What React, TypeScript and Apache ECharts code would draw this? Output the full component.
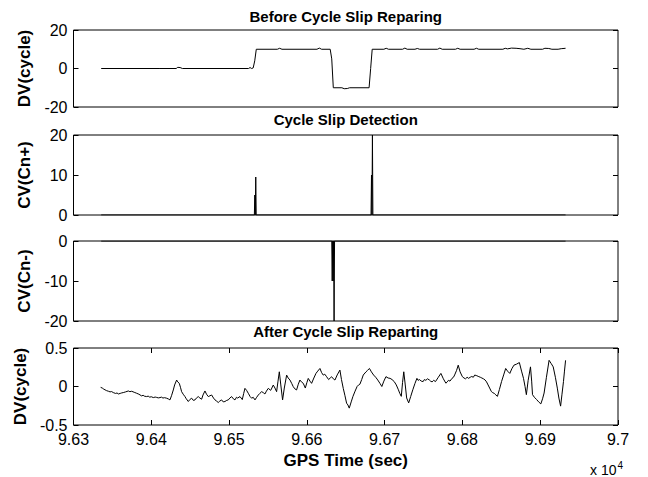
import React, { useEffect, useRef } from "react";
import * as echarts from "echarts";

// GPS time in seconds, values in cycles
const xTicks = { min: 96300, max: 97000, interval: 100 };

const panelTitles = ["Before Cycle Slip Reparing", "Cycle Slip Detection", "", "After Cycle Slip Reparting"];
const yNames = ["DV(cycle)", "CV(Cn+)", "CV(Cn-)", "DV(cycle)"];
const yRanges: [number, number, number][] = [
  [-20, 20, 20],
  [0, 20, 10],
  [-20, 0, 10],
  [-0.5, 0.5, 0.5],
];

const beforeData: [number, number][] = [
  [96335.6, 0], [96410, 0], [96432, 0], [96434, 0.6], [96437, 0.5], [96440, 0],
  [96525, 0], [96527, 0.5], [96529, 0], [96531, 0.3], [96533, 4], [96535, 10],
  [96562, 10], [96565, 10.5], [96568, 10], [96613, 10], [96616, 10.6], [96619, 10],
  [96630, 10], [96632, 5], [96634, -10], [96645, -10], [96648, -10.5], [96652, -10.4],
  [96655, -10], [96680, -10], [96682, 0], [96684, 10], [96699, 10], [96702, 10.5],
  [96705, 10], [96723, 10], [96726, 10.6], [96729, 10], [96739, 10], [96742, 10.4],
  [96745, 10], [96768, 10], [96771, 10.6], [96774, 10], [96791, 10], [96794, 10.5],
  [96797, 10], [96815, 10], [96818, 10.5], [96821, 10], [96852, 10], [96855, 10.5],
  [96858, 10.2], [96863, 10.6], [96869, 10.5], [96874, 10.3], [96879, 10], [96884, 10.5],
  [96888, 10], [96903, 10], [96906, 10.5], [96911, 10.4], [96915, 10], [96923, 10],
  [96927, 10.3], [96932.6, 10.5],
];

const cnPlusData: [number, number][] = [
  [96335.6, 0], [96532.5, 0], [96533.1, 5], [96533.7, 0], [96534.3, 9.5], [96534.9, 0],
  [96682.5, 0], [96683.1, 10], [96683.7, 0], [96684.3, 20], [96684.9, 0], [96932.6, 0],
];

const cnMinusData: [number, number][] = [
  [96335.6, 0], [96632, 0], [96632.6, -10], [96633.2, 0], [96633.8, -10], [96634.4, 0],
  [96635, -20], [96635.6, 0], [96932.6, 0],
];

const afterData: [number, number][] = [
  [96334.9, -0.011], [96337, -0.02], [96339, -0.035], [96342.6, -0.054], [96345, -0.062],
  [96347, -0.07], [96349, -0.066], [96351.2, -0.079], [96354, -0.09], [96356, -0.084],
  [96357.6, -0.097], [96360, -0.09], [96362, -0.083], [96364.0, -0.079], [96367, -0.07],
  [96370.5, -0.058], [96372.5, -0.067], [96374.8, -0.062], [96378, -0.075], [96381.2, -0.088],
  [96384, -0.1], [96387.6, -0.122], [96389.5, -0.114], [96391, -0.125], [96394.0, -0.131],
  [96396, -0.125], [96398, -0.138], [96400, -0.133], [96402.6, -0.144], [96405, -0.137],
  [96407, -0.142], [96409, -0.148], [96411.2, -0.144], [96413, -0.138], [96415, -0.15],
  [96417, -0.145], [96419.7, -0.152], [96422, -0.162], [96424.0, -0.174], [96426, -0.12],
  [96428.3, -0.045], [96430, 0.02], [96432.6, 0.084], [96434, 0.06], [96436.0, 0.041],
  [96437.5, -0.01], [96439.0, -0.067], [96441, -0.1], [96443.3, -0.131], [96445, -0.16],
  [96447.6, -0.195], [96449.5, -0.17], [96451.9, -0.152], [96454, -0.18], [96456.2, -0.174],
  [96458, -0.15], [96460.4, -0.131], [96462.5, -0.15], [96464.7, -0.165], [96466.5, -0.11],
  [96469.0, -0.058], [96471, -0.1], [96473.3, -0.131], [96475.5, -0.12], [96477.6, -0.11],
  [96480, -0.15], [96481.9, -0.174], [96484, -0.19], [96486.1, -0.208], [96488, -0.19],
  [96490.4, -0.174], [96492.5, -0.2], [96494.7, -0.195], [96497, -0.18], [96499.0, -0.174],
  [96501, -0.15], [96503.3, -0.131], [96505.5, -0.16], [96507.6, -0.174], [96509.5, -0.14],
  [96511, -0.15], [96514.0, -0.131], [96515.5, -0.15], [96517, -0.17], [96518.8, -0.09],
  [96520.4, -0.024], [96522.5, -0.05], [96524.7, -0.088], [96527, -0.13], [96529.0, -0.152],
  [96531, -0.14], [96533.3, -0.174], [96535.5, -0.14], [96537.6, -0.11], [96539.5, -0.09],
  [96541.9, -0.067], [96544, -0.08], [96546.1, -0.097], [96548, -0.06], [96550.4, -0.024],
  [96553.5, -0.05], [96555, -0.02], [96556.8, 0.019], [96559, -0.02], [96561.1, -0.067],
  [96562.8, 0.06], [96564.6, 0.191], [96566.5, 0.02], [96568.8, -0.174], [96571, -0.02],
  [96574.0, 0.148], [96576, 0.11], [96578.3, 0.084], [96580.5, 0.04], [96582.5, -0.002],
  [96584.5, -0.03], [96586.8, -0.045], [96589, 0.03], [96591.1, 0.084], [96593, 0.06],
  [96595.4, 0.041], [96598, -0.02], [96600, 0.05], [96601.8, 0.105], [96604, 0.07],
  [96606.1, 0.041], [96609, 0.11], [96611.7, 0.17], [96614, 0.2], [96616.8, 0.234],
  [96619, 0.18], [96621.1, 0.148], [96623, 0.16], [96625.4, 0.127], [96628, 0.09],
  [96630, 0.11], [96631.8, 0.127], [96634, 0.1], [96636.1, 0.084], [96639, 0.15],
  [96642.5, 0.213], [96644.5, 0.09], [96646.8, -0.024], [96649, -0.12], [96651.1, -0.217],
  [96652.8, -0.24], [96654.5, -0.281], [96657, -0.2], [96659.3, -0.128], [96662, -0.06],
  [96664.6, 0.0], [96666.5, 0.02], [96668.2, 0.03], [96670.5, 0.09], [96672.5, 0.149],
  [96676, 0.19], [96678, 0.21], [96680.5, 0.234], [96683, 0.19], [96685.8, 0.149],
  [96688.5, 0.12], [96691.1, 0.085], [96694, 0.04], [96696.4, 0.0], [96699, 0.07],
  [96701.7, 0.128], [96704.5, 0.11], [96707.0, 0.106], [96709.5, 0.09], [96712.3, 0.064],
  [96715, 0.02], [96717.7, -0.043], [96719.5, -0.09], [96721.4, -0.128], [96723, 0.05],
  [96724.6, 0.191], [96726.5, 0.02], [96728.3, -0.149], [96730.9, -0.213], [96733.5, -0.13],
  [96736.2, -0.043], [96739, 0.04], [96741.5, 0.106], [96743, 0.08], [96745, 0.09],
  [96747, 0.07], [96749.5, 0.064], [96751, 0.09], [96753, 0.08], [96755, 0.1],
  [96757.5, 0.085], [96759, 0.07], [96761, 0.06], [96763, 0.08], [96765.4, 0.064],
  [96769, 0.12], [96772.3, 0.17], [96775.5, 0.1], [96778.7, 0.043], [96780.5, 0.06],
  [96782, 0.08], [96784, 0.07], [96786.6, 0.106], [96788.5, 0.12], [96790, 0.15],
  [96792.5, 0.21], [96794.6, 0.277], [96797, 0.19], [96799.9, 0.128], [96802, 0.11],
  [96804, 0.1], [96806, 0.12], [96807.9, 0.106], [96810, 0.12], [96812, 0.13],
  [96814, 0.12], [96815.8, 0.149], [96818.5, 0.14], [96821.1, 0.128], [96823, 0.12],
  [96825, 0.11], [96827, 0.1], [96829.1, 0.085], [96831, 0.06], [96833, 0.02],
  [96835, -0.02], [96837.1, -0.064], [96839, -0.08], [96841, -0.09], [96843, -0.11],
  [96845.0, -0.128], [96847.5, -0.04], [96850.3, 0.064], [96853, 0.15], [96855.6, 0.234],
  [96858, 0.2], [96860.9, 0.17], [96863.5, 0.23], [96866.2, 0.277], [96869.5, 0.29],
  [96873.2, 0.311], [96876, 0.2], [96878.5, 0.106], [96880.5, 0.0], [96882.2, -0.106],
  [96884.5, 0.08], [96887.5, 0.255], [96889, 0.07], [96890.1, -0.106], [96892.5, -0.14],
  [96895.4, -0.17], [96898, -0.2], [96900.8, -0.226], [96903, -0.16], [96905.0, -0.085],
  [96908, 0.12], [96911.4, 0.34], [96914, 0.3], [96916.7, 0.255], [96919.5, 0.12],
  [96922.0, -0.021], [96924, -0.15], [96926.2, -0.255], [96928, -0.1], [96929.9, 0.064],
  [96931.2, 0.2], [96932.6, 0.34],
];

const seriesData = [beforeData, cnPlusData, cnMinusData, afterData];

const FONT = "'Liberation Sans', Arial, Helvetica, sans-serif";

const gridBoxes = [
  { top: 30, height: 77 },
  { top: 135, height: 80 },
  { top: 241, height: 80 },
  { top: 348, height: 77 },
];
const LEFT = 73.5;
const RIGHT = 30;

export default function App() {
  const ref = useRef<HTMLDivElement>(null);
  useEffect(() => {
    if (!ref.current) return;
    const chart = echarts.init(ref.current, undefined, { renderer: "svg" });

    const grid = gridBoxes.map((g) => ({
      left: LEFT,
      right: RIGHT,
      top: g.top,
      height: g.height,
      show: true,
      borderColor: "#000",
      borderWidth: 1,
      backgroundColor: "transparent",
      containLabel: false,
    }));

    const tickStyle = { show: true, inside: true, length: 5, lineStyle: { color: "#000", width: 1 } };

    const xAxis: any[] = gridBoxes.map((_, i) => ({
      gridIndex: i,
      type: "value",
      position: "bottom",
      min: xTicks.min,
      max: xTicks.max,
      interval: xTicks.interval,
      axisLine: { show: false, onZero: false },
      splitLine: { show: false },
      axisTick: i === 3 ? tickStyle : { show: false },
      axisLabel:
        i === 3
          ? {
              show: true,
              color: "#000",
              fontSize: 16,
              fontFamily: FONT,
              margin: 6,
              formatter: (v: number) => (v / 1e4).toFixed(2).replace(/0$/, ""),
            }
          : { show: false },
      name: i === 3 ? "GPS Time (sec)" : "",
      nameLocation: "middle",
      nameGap: 27,
      nameTextStyle: { color: "#000", fontSize: 17, fontWeight: "bold", fontFamily: FONT },
    }));
    xAxis.push({
      gridIndex: 3,
      type: "value",
      position: "top",
      min: xTicks.min,
      max: xTicks.max,
      interval: xTicks.interval,
      axisLine: { show: false, onZero: false },
      splitLine: { show: false },
      axisTick: tickStyle,
      axisLabel: { show: false },
    });

    const yAxis: any[] = [];
    yRanges.forEach((r, i) => {
      yAxis.push({
        gridIndex: i,
        type: "value",
        position: "left",
        min: r[0],
        max: r[1],
        interval: r[2],
        axisLine: { show: false, onZero: false },
        splitLine: { show: false },
        axisTick: tickStyle,
        axisLabel: { show: true, color: "#000", fontSize: 16, fontFamily: FONT, margin: 6 },
        name: yNames[i],
        nameLocation: "middle",
        nameRotate: 90,
        nameGap: 41,
        nameTextStyle: { color: "#000", fontSize: 17, fontWeight: "bold", fontFamily: FONT },
      });
      yAxis.push({
        gridIndex: i,
        type: "value",
        position: "right",
        min: r[0],
        max: r[1],
        interval: r[2],
        axisLine: { show: false, onZero: false },
        splitLine: { show: false },
        axisTick: tickStyle,
        axisLabel: { show: false },
      });
    });

    const series = seriesData.map((d, i) => ({
      type: "line",
      xAxisIndex: i,
      yAxisIndex: i * 2,
      data: d,
      symbol: "none",
      showSymbol: false,
      lineStyle: { color: "#000", width: 1 },
    }));

    const titleY = [16, 119, 0, 331];
    const graphic: any[] = panelTitles
      .map((t, i) => ({ t, i }))
      .filter((o) => o.t)
      .map((o) => ({
        type: "text",
        x: LEFT + (648 - LEFT - RIGHT) / 2,
        y: titleY[o.i],
        style: {
          text: o.t,
          fill: "#000",
          font: `bold 15px ${FONT}`,
          textAlign: "center",
          textVerticalAlign: "middle",
        },
      }));
    graphic.push({
      type: "text",
      x: 590,
      y: 470,
      style: {
        text: "{a|x 10}{b|4}",
        textVerticalAlign: "middle",
        rich: {
          a: { fontSize: 14, fontFamily: FONT, fill: "#000" },
          b: { fontSize: 10, fontFamily: FONT, fill: "#000", verticalAlign: "top", padding: [0, 0, 10, 1] },
        },
      },
    });

    chart.setOption({
      animation: false,
      backgroundColor: "#fff",
      grid,
      xAxis,
      yAxis,
      series,
      graphic,
    });
    return () => chart.dispose();
  }, []);
  return <div ref={ref} style={{ position: "absolute", left: 0, top: 0, width: 648, height: 477 }} />;
}
